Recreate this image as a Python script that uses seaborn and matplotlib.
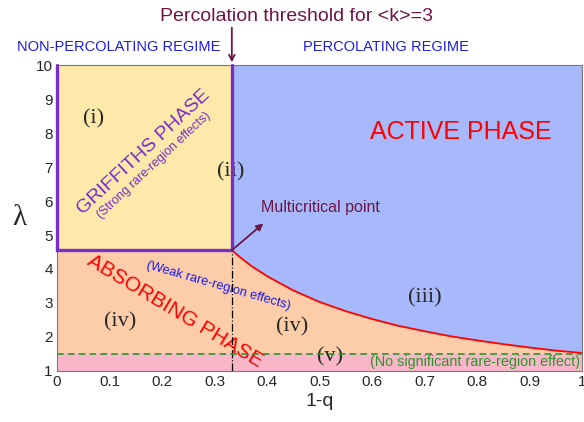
import matplotlib
matplotlib.use("Agg")
import matplotlib.pyplot as plt
import seaborn as sns
import numpy as np

# ---- data ----
q_threshold = 0.333          # percolation threshold (1-q)
lambda_multi = 4.55          # multicritical lambda
lambda_rare = 1.5            # no significant rare-region effect line
x_range = [0, 1]
y_range = [1, 10]

curve_x = [0.333, 0.35, 0.37, 0.383, 0.40, 0.45, 0.50, 0.55, 0.60, 0.65,
           0.70, 0.75, 0.80, 0.85, 0.90, 0.95, 1.00]
curve_y = [4.55, 4.33, 4.09, 3.96, 3.79, 3.37, 3.03, 2.76, 2.53, 2.33,
           2.17, 2.02, 1.90, 1.79, 1.69, 1.60, 1.53]

x_ticks = [0, 0.1, 0.2, 0.3, 0.4, 0.5, 0.6, 0.7, 0.8, 0.9, 1]
x_tick_labels = ["0", "0.1", "0.2", "0.3", "0.4", "0.5", "0.6", "0.7", "0.8", "0.9", "1"]
y_ticks = [1, 2, 3, 4, 5, 6, 7, 8, 9, 10]

# ---- style ----
sns.set_style("ticks")
plt.rcParams["font.family"] = ["Liberation Sans", "DejaVu Sans"]

YELLOW = "#fde9a9"
BLUE = "#a7b9fa"
PEACH = "#fdcdaa"
PINK = "#fab6c9"
PURPLE = "#7a2dc8"
MAROON = "#6e1446"
TXTBLUE = "#1c1ce6"
GREEN = "#2a962a"

fig = plt.figure(figsize=(5.84, 4.22), dpi=100)
ax = fig.add_axes([0.0976, 0.1209, 0.899, 0.725])

cx = np.array(curve_x)
cy = np.array(curve_y)

# regions
ax.fill_between([0, q_threshold], lambda_multi, y_range[1], color=YELLOW, lw=0)
ax.fill_between(cx, cy, y_range[1], color=BLUE, lw=0)
ax.fill_between([0, q_threshold], lambda_rare, lambda_multi, color=PEACH, lw=0)
ax.fill_between(cx, lambda_rare, cy, color=PEACH, lw=0)
ax.fill_between(x_range, y_range[0], lambda_rare, color=PINK, lw=0)

# boundary curve
sns.lineplot(x=curve_x, y=curve_y, color="red", lw=1.3, ax=ax, sort=False)

# Griffiths box
ax.plot([0, 0, q_threshold, q_threshold], [y_range[1], lambda_multi, lambda_multi, y_range[1]],
        color=PURPLE, lw=2.4, solid_joinstyle="miter", zorder=5, clip_on=False)
# dash-dot threshold line
ax.plot([q_threshold, q_threshold], [y_range[0], lambda_multi], color="black", lw=0.9,
        ls="-.", zorder=4)
# green dashed line
ax.plot(x_range, [lambda_rare, lambda_rare], color=GREEN, lw=1.2, ls=(0, (4, 2.5)), zorder=4)

ax.set_xlim(*x_range)
ax.set_ylim(*y_range)
ax.set_xticks(x_ticks)
ax.set_xticklabels(x_tick_labels)
ax.set_yticks(y_ticks)
ax.tick_params(direction="in", length=4, width=0.7, labelsize=11, top=True, right=True,
               color="#555555", pad=3)
for s in ax.spines.values():
    s.set_color("#7a7a7a")
    s.set_linewidth(0.8)
ax.set_xlabel("1-q", fontsize=14, labelpad=3)
ax.set_ylabel("λ", fontsize=21, family=["Liberation Serif"], rotation=0, labelpad=12,
              va="center")

# texts inside
serif = ["Liberation Serif"]
ax.text(0.07, 8.43, "(i)", fontsize=16, family=serif, ha="center", va="center")
ax.text(0.33, 6.86, "(ii)", fontsize=16, family=serif, ha="center", va="center")
ax.text(0.70, 3.15, "(iii)", fontsize=16, family=serif, ha="center", va="center")
ax.text(0.12, 2.44, "(iv)", fontsize=16, family=serif, ha="center", va="center")
ax.text(0.448, 2.30, "(iv)", fontsize=16, family=serif, ha="center", va="center")
ax.text(0.52, 1.41, "(v)", fontsize=16, family=serif, ha="center", va="center")

ax.text(0.165, 7.43, "GRIFFITHS PHASE", fontsize=14, color=PURPLE, rotation=43,
        ha="center", va="center", rotation_mode="anchor")
ax.text(0.185, 7.04, "(Strong rare-region effects)", fontsize=9, color=PURPLE, rotation=43,
        ha="center", va="center", rotation_mode="anchor")
ax.text(0.770, 8.03, "ACTIVE PHASE", fontsize=18, color="red", ha="center", va="center")
ax.text(0.225, 2.75, "ABSORBING PHASE", fontsize=15, color="red", rotation=-31,
        ha="center", va="center", rotation_mode="anchor")
ax.text(0.307, 3.50, "(Weak rare-region effects)", fontsize=9.3, color=TXTBLUE, rotation=-16,
        ha="center", va="center", rotation_mode="anchor")
ax.text(0.997, 1.26, "(No significant rare-region effect)", fontsize=10.4, color=GREEN,
        ha="right", va="center")
ax.text(0.388, 5.80, "Multicritical point", fontsize=11.5, color=MAROON, ha="left", va="center")
ax.annotate("", xy=(0.393, 5.34), xytext=(q_threshold, lambda_multi),
            arrowprops=dict(arrowstyle="-|>", color=MAROON, lw=1.3, mutation_scale=10,
                            shrinkA=0, shrinkB=0), zorder=6)

# texts outside
fig.text(0.507, 0.962, "Percolation threshold for <k>=3", fontsize=14, color=MAROON,
         ha="center", va="center")
fig.text(0.204, 0.889, "NON-PERCOLATING REGIME", fontsize=10.5, color=TXTBLUE,
         ha="center", va="center")
fig.text(0.660, 0.889, "PERCOLATING REGIME", fontsize=10.5, color=TXTBLUE,
         ha="center", va="center")
ax.annotate("", xy=(q_threshold, 10.08), xytext=(q_threshold, 11.1),
            arrowprops=dict(arrowstyle="->", color=MAROON, lw=1.3, mutation_scale=10,
                            shrinkA=0, shrinkB=0), annotation_clip=False)

fig.savefig("out.png", dpi=100)
